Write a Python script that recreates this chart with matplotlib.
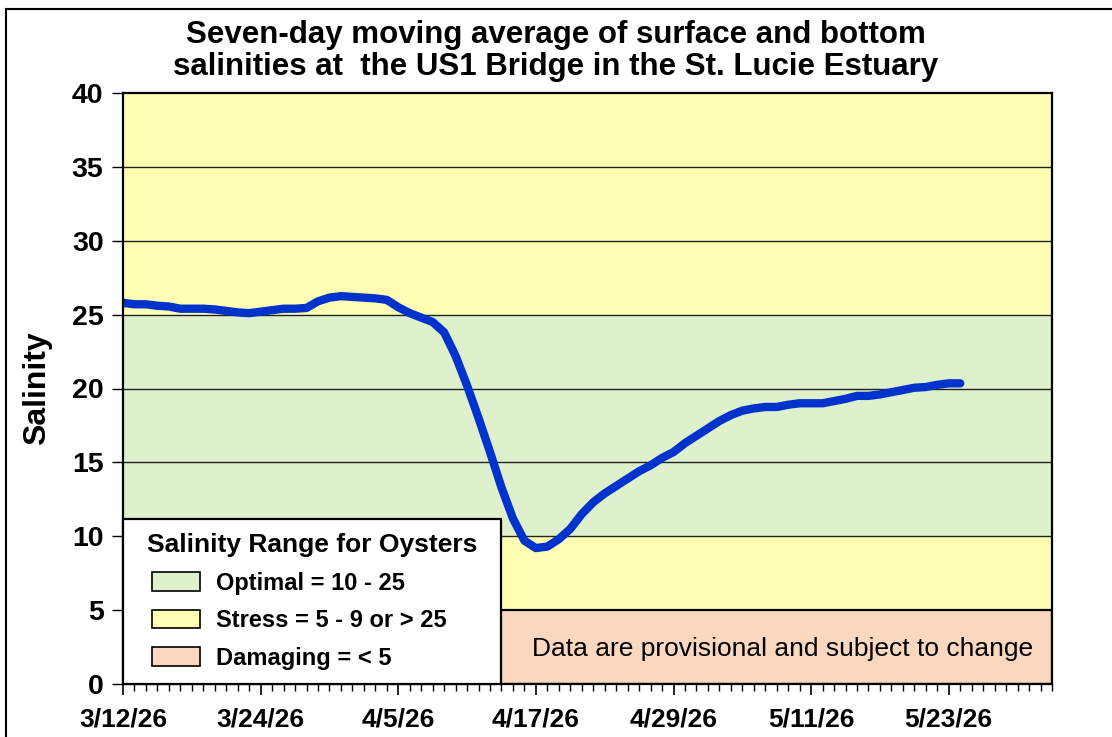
#!/usr/bin/env python3
"""Seven-day moving average salinity at US1 Bridge, St. Lucie Estuary."""

import datetime as dt
import matplotlib
matplotlib.use("Agg")
import matplotlib.pyplot as plt
import matplotlib.dates as mdates
from matplotlib.patches import Rectangle, Patch
from matplotlib.legend_handler import HandlerPatch

# data: daily 7-day moving average, starting 3/12/26
start = dt.date(2026, 3, 12)
end_axis = dt.date(2026, 6, 1)
salinity = [
    25.8, 25.7, 25.7, 25.6, 25.55, 25.4, 25.4, 25.4, 25.35, 25.25,
    25.15, 25.1, 25.2, 25.3, 25.4, 25.4, 25.45, 25.9, 26.15, 26.25,
    26.2, 26.15, 26.1, 26.0, 25.5, 25.1, 24.8, 24.5, 23.8, 22.2,
    20.2, 18.0, 15.7, 13.3, 11.2, 9.7, 9.2, 9.3, 9.8, 10.5,
    11.5, 12.3, 12.9, 13.4, 13.9, 14.4, 14.8, 15.3, 15.7, 16.3,
    16.8, 17.3, 17.8, 18.2, 18.5, 18.65, 18.75, 18.75, 18.9, 19.0,
    19.0, 19.0, 19.15, 19.3, 19.5, 19.5, 19.6, 19.75, 19.9, 20.05,
    20.1, 20.25, 20.35, 20.35,
]
dates = [start + dt.timedelta(days=i) for i in range(len(salinity))]

# oyster salinity zones (low, high)
zone_labels = ["Optimal = 10 - 25", "Stress = 5 - 9 or > 25", "Damaging = < 5"]
zone_colors = ["#DEF0CC", "#FFFFB3", "#FAD8BF"]
optimal = (10, 25)
stress = [(5, 10), (25, 40)]
damaging = (0, 5)

BOLD = ["Liberation Sans", "DejaVu Sans"]

fig = plt.figure(figsize=(11.12, 7.37), dpi=100)
ax = fig.add_axes([123 / 1112, 1 - 684 / 737, (1052 - 123) / 1112, (684 - 93) / 737])

# zones
ax.axhspan(*optimal, color=zone_colors[0], lw=0, zorder=0)
for lo, hi in stress:
    ax.axhspan(lo, hi, color=zone_colors[1], lw=0, zorder=0)
ax.axhspan(*damaging, color=zone_colors[2], lw=0, zorder=0)
for yv in range(5, 40, 5):
    ax.axhline(yv, color="#222222", lw=1.0, zorder=1)

ax.plot(dates, salinity, color="#0033CC", lw=6, solid_capstyle="round",
        solid_joinstyle="round", zorder=3)

ax.set_xlim(start, end_axis)
ax.set_ylim(0, 40)
ax.set_yticks(range(0, 41, 5))
ax.set_yticklabels([str(v) for v in range(0, 41, 5)], fontsize=20.5,
                   fontweight="bold", family=BOLD)
major = [start + dt.timedelta(days=12 * k) for k in range(7)]
ax.set_xticks(major)
ax.set_xticklabels([f"{d.month}/{d.day}/26" for d in major], fontsize=19,
                   fontweight="bold", family=BOLD)
ax.xaxis.set_minor_locator(mdates.DayLocator())
ax.tick_params(axis="x", which="major", direction="out", length=8, width=1.2, pad=9)
ax.tick_params(axis="x", which="minor", direction="out", length=5, width=1.0)
ax.tick_params(axis="y", direction="out", length=8, width=1.0, pad=6)
for s in ax.spines.values():
    s.set_linewidth(1.6)
    s.set_zorder(5)

ax.set_ylabel("Salinity", fontsize=23, fontweight="bold", family=BOLD, labelpad=14)

fig.text(0.5, 1 - 51 / 737, "Seven-day moving average of surface and bottom\n"
         "salinities at  the US1 Bridge in the St. Lucie Estuary",
         ha="center", va="center", fontsize=22.5, fontweight="bold", family=BOLD,
         linespacing=1.12)

# provisional data box
x0 = mdates.date2num(start)
x1 = mdates.date2num(end_axis)
box_x0 = x0 + (500 - 123) / (1052 - 123) * (x1 - x0)
ax.add_patch(Rectangle((box_x0, 0), x1 - box_x0, 5,
                       facecolor=zone_colors[2], edgecolor="black", lw=1.6, zorder=4))
ax.text(x0 + (783 - 123) / (1052 - 123) * (x1 - x0), 2.35,
        "Data are provisional and subject to change",
        ha="center", va="center", fontsize=19, family=BOLD, zorder=6)


def indented_box(legend, orig_handle, xdescent, ydescent, width, height, fontsize):
    # leave a small gap before the swatch, like the original legend
    shift = 11
    return Rectangle((-xdescent + shift, -ydescent), width - shift, height)


# legend
handles = [Patch(facecolor=c, edgecolor="black", lw=1.2) for c in zone_colors]
leg = ax.legend(handles, zone_labels, title="Salinity Range for Oysters",
                loc="lower left", bbox_to_anchor=(0.0, 0.0, (500 - 122) / 929, 0.3),
                mode="expand", frameon=True,
                fancybox=False, edgecolor="black", framealpha=1,
                prop={"family": BOLD, "weight": "bold", "size": 17},
                title_fontproperties={"family": BOLD, "weight": "bold", "size": 19},
                handler_map={Patch: HandlerPatch(patch_func=indented_box)},
                handlelength=2.67, handleheight=0.85, handletextpad=0.65,
                labelspacing=0.62, borderpad=0.6, borderaxespad=0)
leg.get_frame().set_linewidth(1.6)
leg.set_zorder(7)

# outer frame
fig.patches.append(Rectangle((6 / 1112, -0.05), 1.2, 1 - 9 / 737 + 0.05,
                             transform=fig.transFigure, fill=False,
                             edgecolor="black", lw=1.5))

fig.savefig("out.png", dpi=100)
